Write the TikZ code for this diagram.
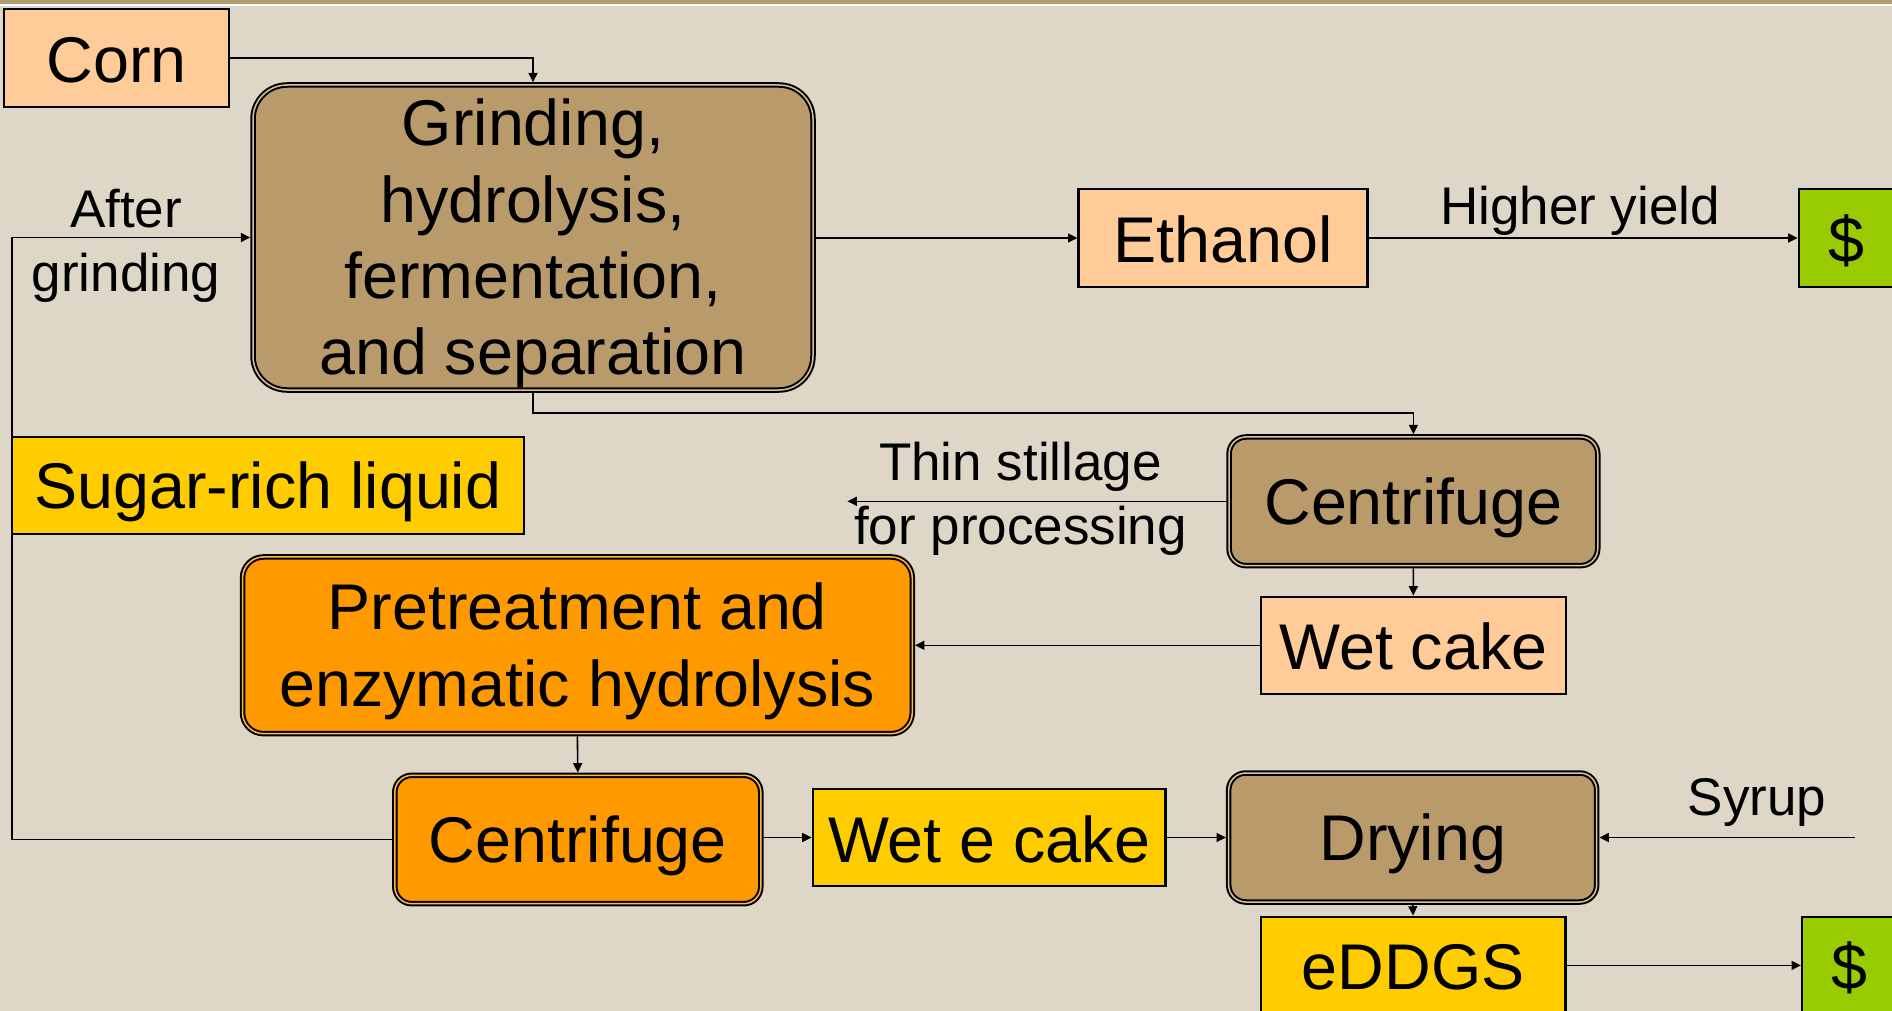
\documentclass[tikz,border=0pt]{standalone}
\usepackage{fontspec}
\setmainfont{Liberation Sans}
\usetikzlibrary{arrows.meta}
\definecolor{bgc}{HTML}{DED7C7}
\definecolor{topbar}{HTML}{B29C72}
\definecolor{peach}{HTML}{FFCC99}
\definecolor{tanfill}{HTML}{B99A6B}
\definecolor{tangap}{HTML}{D6C29C}
\definecolor{orng}{HTML}{FF9900}
\definecolor{orngap}{HTML}{FFB84D}
\definecolor{yell}{HTML}{FFCC00}
\definecolor{grn}{HTML}{99CC00}
\newcommand{\mainstrut}{\rule[-4.95pt]{0pt}{34.45pt}}
\newcommand{\smallstrut}{\rule[-3.9pt]{0pt}{27.9pt}}
\tikzset{
  bigtxt/.style={font=\fontsize{32.3pt}{38.2pt}\selectfont, align=center},
  smalltxt/.style={font=\fontsize{26.5pt}{32pt}\selectfont, align=center, inner sep=0pt},
  plainbox/.style={draw=black, line width=1.1pt, rectangle, inner sep=0pt, bigtxt},
  dblbox/.style={draw=black, line width=1pt, double distance=0.75pt, rectangle,
                 inner sep=0pt, outer sep=1.375pt, bigtxt},
  arr/.style={draw=black, line width=0.8pt, -{Triangle[length=4.7pt,width=4.5pt]}},
}
\begin{document}
\begin{tikzpicture}[x=0.5pt,y=-0.5pt]
\useasboundingbox (0,0) rectangle (1892,1011);
\fill[bgc] (0,0) rectangle (1892,1011);
\fill[topbar] (0,0) rectangle (1892,4.3);
\fill[white] (0,4.3) rectangle (1892,6);
\begin{scope}
\clip (0,0) rectangle (1892,1011);
% boxes
\node[plainbox, fill=peach, minimum width=112.5pt, minimum height=48.7pt] (corn) at (116.5,58) {\mainstrut Corn};
\node[dblbox, fill=tanfill, double=tangap, rounded corners=17pt, minimum width=280pt, minimum height=152.5pt] (grind) at (533,237.5)
  {\mainstrut Grinding,\\\mainstrut hydrolysis,\\\mainstrut fermentation,\\\mainstrut and separation};
\node[plainbox, fill=peach, minimum width=144.5pt, minimum height=48.7pt] (eth) at (1223,238) {\mainstrut Ethanol};
\node[plainbox, fill=grn, minimum width=48pt, minimum height=48.7pt] (dolA) at (1846.7,238) {\mainstrut \$};
\node[dblbox, fill=tanfill, double=tangap, rounded corners=8.5pt, minimum width=184.35pt, minimum height=64.35pt] (centA) at (1413.4,501.3) {\mainstrut Centrifuge};
\node[plainbox, fill=peach, minimum width=152.65pt, minimum height=48.65pt] (wetc) at (1413.3,645.3) {\mainstrut Wet cake};
\node[dblbox, fill=orng, double=orngap, rounded corners=10.5pt, minimum width=334.9pt, minimum height=88.35pt] (pret) at (577.4,645.3)
  {\mainstrut Pretreatment and\\\mainstrut enzymatic hydrolysis};
\node[dblbox, fill=orng, double=orngap, rounded corners=8.5pt, minimum width=183pt, minimum height=64.2pt] (centB) at (577.8,839.5) {\mainstrut Centrifuge};
\node[plainbox, fill=yell, minimum width=176.4pt, minimum height=48.5pt] (wete) at (989.1,837.5) {\mainstrut Wet e cake};
\node[dblbox, fill=tanfill, double=tangap, rounded corners=8.5pt, minimum width=184pt, minimum height=64.5pt] (dry) at (1412.7,837.5) {\mainstrut Drying};
\node[plainbox, fill=yell, minimum width=152.4pt, minimum height=48.7pt] (eddgs) at (1413.1,965.4) {\mainstrut eDDGS};
\node[plainbox, fill=grn, minimum width=47.5pt, minimum height=48.7pt] (dolB) at (1849.5,965.4) {\mainstrut \$};
% labels
\node[smalltxt] (after) at (126,241.2) {\smallstrut After\\\smallstrut grinding};
\node[smalltxt] (higher) at (1580,205.9) {\smallstrut Higher yield};
\node[smalltxt] (thin) at (1020.5,494) {\smallstrut Thin stillage\\\smallstrut for processing};
\node[smalltxt] (syrup) at (1757,796.9) {\smallstrut Syrup};
% free ends
\coordinate (loopx) at (12.2,500);
\coordinate (thinend) at (847.4,501.3);
\coordinate (syrupstart) at (1855,837.5);
% connectors
\draw[arr] (corn.east) -| (grind.north);
\draw[arr] (centB.west) -- (centB.west -| loopx) -- (grind.west -| loopx) -- (grind.west);
\draw[arr] (grind.east |- eth.west) -- (eth.west);
\draw[arr] (eth.east) -- (dolA.west);
\draw[arr] (grind.south) -- ++(0,20) -| (centA.north);
\draw[arr] (centA.west) -- (thinend);
\draw[arr] (centA.south) -- (wetc.north);
\draw[arr] (wetc.west) -- (pret.east |- wetc.west);
\draw[arr] (pret.south) -- (centB.north);
\draw[arr] (centB.east |- wete.west) -- (wete.west);
\draw[arr] (wete.east) -- (dry.west);
\draw[arr] (syrupstart) -- (dry.east);
\draw[arr] (dry.south) -- (eddgs.north);
\draw[arr] (eddgs.east) -- (dolB.west);
% drawn last so that it covers the loop line
\node[plainbox, fill=yell, minimum width=256pt, minimum height=48.35pt] (sugar) at (268,485.7) {\mainstrut Sugar-rich liquid};
\end{scope}
\end{tikzpicture}
\end{document}
